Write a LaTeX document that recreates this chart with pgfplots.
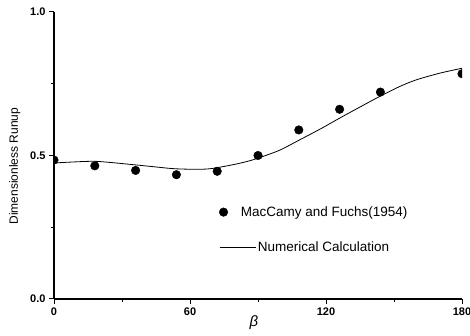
\documentclass[border=0pt]{standalone}
\usepackage{pgfplots}
\pgfplotsset{compat=1.18}
\usepackage{fontspec}
\setmainfont{Liberation Sans}
\begin{document}
\begin{tikzpicture}[x=1pt,y=1pt]
\path[use as bounding box] (0,0) rectangle (470,336);
\begin{axis}[
  at={(54pt,37pt)}, anchor=south west,
  scale only axis, width=408pt, height=287pt,
  xmin=0, xmax=180, ymin=0, ymax=1,
  axis lines=left, axis line style={-, line width=1.2pt},
  xtick={0,60,120,180}, minor xtick={30,90,150},
  ytick={0,0.5,1}, minor ytick={0.25,0.75},
  tick align=outside, major tick length=5pt, minor tick length=3pt,
  tick style={line width=1pt, black},
  /pgf/number format/assume math mode=true,
  ticklabel style={font=\fontsize{11}{13}\selectfont\bfseries},
  yticklabel style={/pgf/number format/.cd, fixed, fixed zerofill, precision=1},
  xlabel={\textit{β}},
  xlabel style={font=\fontsize{15}{17}\selectfont, at={(axis description cs:0.49,0)}, anchor=center, yshift=-24pt},
  ylabel={Dimensionless Runup},
  ylabel style={font=\fontsize{12}{14}\selectfont, at={(axis description cs:-0.096,0.463)}, anchor=center, rotate=0},
  clip mode=individual, clip marker paths=true,
  legend style={draw=none, fill=none, at={(axis description cs:0.404,0.33)}, anchor=north west,
    inner sep=0pt, font=\fontsize{13.5}{16}\selectfont, row sep=20pt, cells={anchor=west}},
  legend cell align=left,
]
\addplot[only marks, mark=*, mark size=4.3pt, black,
  legend image code/.code={\fill[black] (4pt,0) circle (4.3pt);}]
  coordinates {(0,0.484) (18,0.464) (36,0.448) (54,0.433) (72,0.445) (90,0.500) (108,0.589) (126,0.661) (144,0.721) (180,0.785)};
\addlegendentry{\hspace{-17pt}MacCamy and Fuchs(1954)}
\addplot[smooth, black, line width=0.8pt,
  legend image code/.code={\draw[black, line width=0.8pt] (0,0) -- (36pt,0);}]
  coordinates {(0,0.474) (13,0.479) (20,0.479) (35,0.468) (45,0.460) (53,0.454) (62,0.452) (69,0.454) (79,0.468) (86.5,0.482) (93,0.499) (100,0.520) (108.5,0.555) (117.4,0.592) (126.2,0.631) (135,0.669) (144,0.707) (152.7,0.741) (160,0.764) (170.3,0.787) (180,0.804)};
\addlegendentry{Numerical Calculation}
\end{axis}
\end{tikzpicture}
\end{document}
